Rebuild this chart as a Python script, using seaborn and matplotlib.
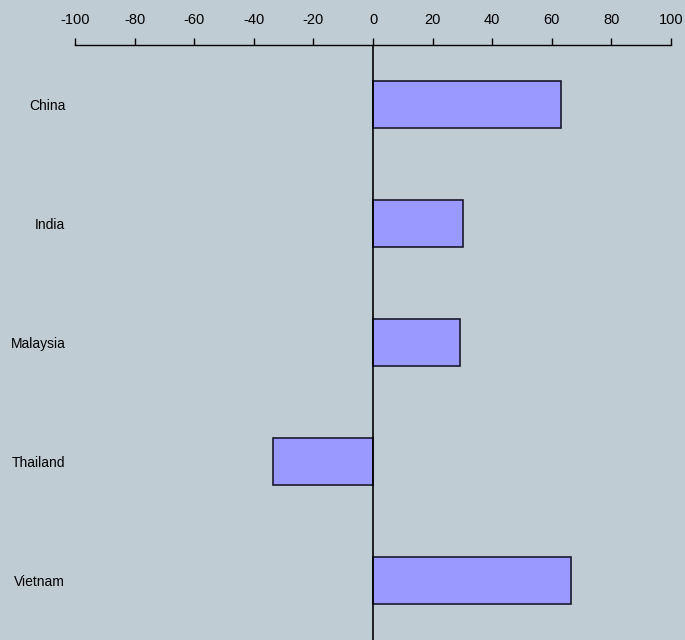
import matplotlib
matplotlib.use("Agg")
import matplotlib.pyplot as plt
import seaborn as sns
import pandas as pd

countries = ["China", "India", "Malaysia", "Thailand", "Vietnam"]
values = [63.1, 30.2, 29.2, -33.6, 66.4]
xticks = [-100, -80, -60, -40, -20, 0, 20, 40, 60, 80, 100]

bg = "#C0CCD4"
sns.set_style("white", {"axes.facecolor": bg, "figure.facecolor": bg,
                        "text.color": "black", "xtick.color": "black",
                        "ytick.color": "black"})
plt.rcParams["font.family"] = ["Liberation Sans", "DejaVu Sans"]

df = pd.DataFrame({"country": countries, "value": values})

fig = plt.figure(figsize=(6.85, 6.4), dpi=100)
ax = fig.add_axes([75 / 685, 0.0, (671 - 75) / 685, 1 - 45 / 640])
sns.barplot(data=df, x="value", y="country", orient="h", ax=ax,
            color="#9999FF", saturation=1, width=0.4,
            edgecolor="#1a1a2e", linewidth=1.2)

ax.set_xlim(-100, 100)
ax.set_ylim(4.5, -0.5)
ax.set_xticks(xticks)
ax.set_xticklabels([str(t) for t in xticks], fontsize=10.5)
ax.xaxis.tick_top()
ax.tick_params(axis="x", direction="out", length=5, width=1, color="black",
               labelcolor="black", pad=8)
ax.tick_params(axis="y", length=0, pad=7, labelsize=10, labelcolor="black")
ax.set_xlabel("")
ax.set_ylabel("")
for s in ["left", "right", "bottom"]:
    ax.spines[s].set_visible(False)
ax.spines["top"].set_visible(True)
ax.spines["top"].set_color("black")
ax.spines["top"].set_linewidth(1)
ax.axvline(0, color="black", linewidth=1.2, zorder=3)

fig.savefig("out.png", dpi=100, facecolor=bg)
